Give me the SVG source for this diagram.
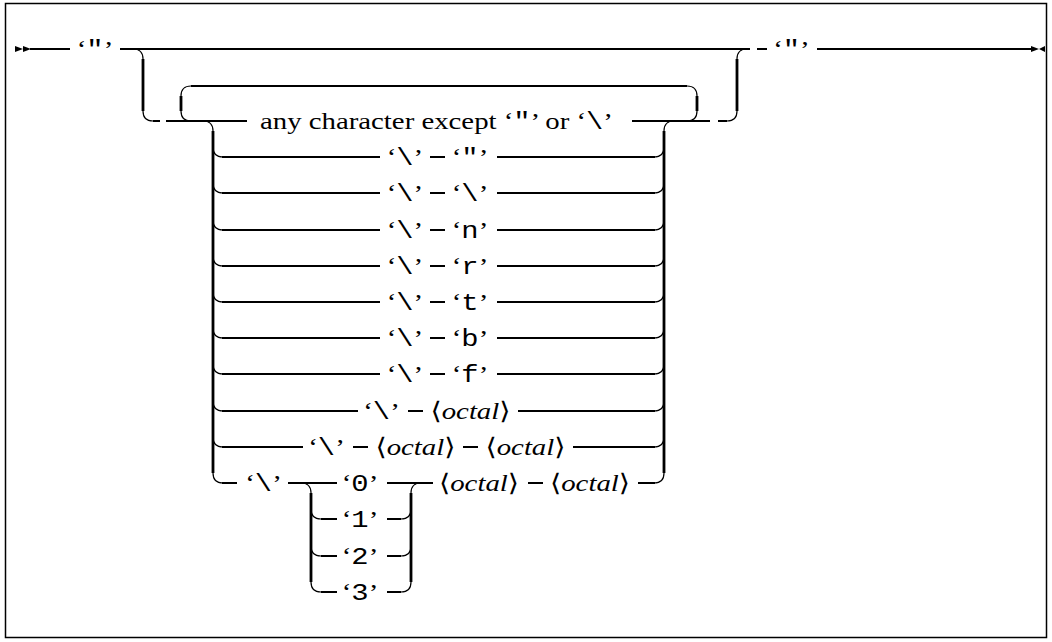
<svg xmlns="http://www.w3.org/2000/svg" width="1052" height="642" viewBox="0 0 1052 642">
<style>
.bg{fill:#fff}
.frame{fill:none;stroke:#000;stroke-width:1.5}
.ln{fill:none;stroke:#000;stroke-width:2}
.rail{fill:none;stroke:#000;stroke-width:2.8}
.cv{fill:none;stroke:#000;stroke-width:1.2}
.s{font-family:"Liberation Serif","DejaVu Serif",serif;font-size:24px;fill:#000}
.m{font-family:"Liberation Mono","DejaVu Sans Mono",monospace}
.i{font-style:italic}
.ang{font-family:"DejaVu Serif","Liberation Serif",serif;font-style:normal}
</style>
<rect class="bg" x="0" y="0" width="1052" height="642"/>
<rect class="frame" x="5.5" y="3.5" width="1041" height="634"/>
<g id="connectors">
  <polygon points="15,46 23,49 15,52"/>
  <polygon points="23,46 31,49 23,52"/>
  <path class="ln" d="M30 49H70M120 49H750M757 49H767M817 49H1034"/>
  <polygon points="1031,46 1039,49 1031,52"/>
  <polygon points="1045,46 1039,49 1045,52"/>
  <path class="cv" d="M133 49Q143 49 143 59M143 111Q143 121 153 121M727 121Q737 121 737 111M737 59Q737 49 747 49"/>
  <path class="rail" d="M143 59V111M737 59V111"/>
  <path class="ln" d="M153 121H160M718 121H727"/>
  <path class="cv" d="M191 121Q181 121 181 111M181 96Q181 86 191 86M687 86Q697 86 697 96M697 111Q697 121 687 121"/>
  <path class="rail" d="M181 96V111M697 96V111"/>
  <path class="ln" d="M191 86H687M166 121H247M632 121H710"/>
  <path class="cv" d="M203 121Q213 121 213 131M674 121Q664 121 664 131M213 473Q213 483 223 483M664 473Q664 483 654 483"/>
  <path class="rail" d="M213 131V473M664 131V473"/>
  <path class="cv" d="M213 147Q213 157 223 157M654 157Q664 157 664 147
    M213 183Q213 193 223 193M654 193Q664 193 664 183
    M213 220Q213 230 223 230M654 230Q664 230 664 220
    M213 256Q213 266 223 266M654 266Q664 266 664 256
    M213 292Q213 302 223 302M654 302Q664 302 664 292
    M213 328Q213 338 223 338M654 338Q664 338 664 328
    M213 364Q213 374 223 374M654 374Q664 374 664 364
    M213 401Q213 411 223 411M654 411Q664 411 664 401
    M213 437Q213 447 223 447M654 447Q664 447 664 437"/>
  <path class="ln" d="M222 157H380M430 157H445M497 157H655
    M222 193H380M430 193H445M497 193H655
    M222 230H380M430 230H445M497 230H655
    M222 266H380M430 266H445M497 266H655
    M222 302H380M430 302H445M497 302H655
    M222 338H380M430 338H445M497 338H655
    M222 374H380M430 374H445M497 374H655
    M222 411H358M408 411H423M518 411H655
    M222 447H303M353 447H368M463 447H478M573 447H655
    M222 483H237M288 483H337M387 483H433M528 483H543M638 483H655"/>
  <path class="cv" d="M301 483Q311 483 311 493M421 483Q411 483 411 493
    M311 509Q311 519 321 519M401 519Q411 519 411 509
    M311 546Q311 556 321 556M401 556Q411 556 411 546
    M311 582Q311 592 321 592M401 592Q411 592 411 582"/>
  <path class="rail" d="M311 493V582M411 493V582"/>
  <path class="ln" d="M321 519H337M387 519H401M321 556H337M387 556H401M321 592H337M387 592H401"/>
</g>
<g transform="scale(1.2 1)" text-anchor="middle">
  <g id="n-open-quote"><text class="s" x="79.17" y="57">‘<tspan class="m">"</tspan>’</text></g>
  <g id="n-close-quote"><text class="s" x="659.58" y="57">‘<tspan class="m">"</tspan>’</text></g>
  <g id="n-any"><text class="s" x="216.67" y="129" text-anchor="start">any character except ‘<tspan class="m">"</tspan>’ or ‘<tspan class="m">\</tspan>’</text></g>
  <g id="n-esc-quote"><text class="s" x="337.5" y="165">‘<tspan class="m">\</tspan>’</text><text class="s" x="391.67" y="165">‘<tspan class="m">"</tspan>’</text></g>
  <g id="n-esc-bs"><text class="s" x="337.5" y="201">‘<tspan class="m">\</tspan>’</text><text class="s" x="391.67" y="201">‘<tspan class="m">\</tspan>’</text></g>
  <g id="n-esc-n"><text class="s" x="337.5" y="238">‘<tspan class="m">\</tspan>’</text><text class="s" x="391.67" y="238">‘<tspan class="m">n</tspan>’</text></g>
  <g id="n-esc-r"><text class="s" x="337.5" y="274">‘<tspan class="m">\</tspan>’</text><text class="s" x="391.67" y="274">‘<tspan class="m">r</tspan>’</text></g>
  <g id="n-esc-t"><text class="s" x="337.5" y="310">‘<tspan class="m">\</tspan>’</text><text class="s" x="391.67" y="310">‘<tspan class="m">t</tspan>’</text></g>
  <g id="n-esc-b"><text class="s" x="337.5" y="346">‘<tspan class="m">\</tspan>’</text><text class="s" x="391.67" y="346">‘<tspan class="m">b</tspan>’</text></g>
  <g id="n-esc-f"><text class="s" x="337.5" y="382">‘<tspan class="m">\</tspan>’</text><text class="s" x="391.67" y="382">‘<tspan class="m">f</tspan>’</text></g>
  <g id="n-esc-oct1"><text class="s" x="317.92" y="419">‘<tspan class="m">\</tspan>’</text><text class="s" x="392.08" y="419"><tspan class="ang">⟨</tspan><tspan class="i">octal</tspan><tspan class="ang">⟩</tspan></text></g>
  <g id="n-esc-oct2"><text class="s" x="272.08" y="455">‘<tspan class="m">\</tspan>’</text><text class="s" x="346.25" y="455"><tspan class="ang">⟨</tspan><tspan class="i">octal</tspan><tspan class="ang">⟩</tspan></text><text class="s" x="437.92" y="455"><tspan class="ang">⟨</tspan><tspan class="i">octal</tspan><tspan class="ang">⟩</tspan></text></g>
  <g id="n-esc-oct3"><text class="s" x="219.58" y="491">‘<tspan class="m">\</tspan>’</text><text class="s" x="399.17" y="491"><tspan class="ang">⟨</tspan><tspan class="i">octal</tspan><tspan class="ang">⟩</tspan></text><text class="s" x="491.67" y="491"><tspan class="ang">⟨</tspan><tspan class="i">octal</tspan><tspan class="ang">⟩</tspan></text></g>
  <g id="n-d0"><text class="s" x="300" y="491">‘<tspan class="m">0</tspan>’</text></g>
  <g id="n-d1"><text class="s" x="300" y="527">‘<tspan class="m">1</tspan>’</text></g>
  <g id="n-d2"><text class="s" x="300" y="564">‘<tspan class="m">2</tspan>’</text></g>
  <g id="n-d3"><text class="s" x="300" y="600">‘<tspan class="m">3</tspan>’</text></g>
</g>
</svg>
